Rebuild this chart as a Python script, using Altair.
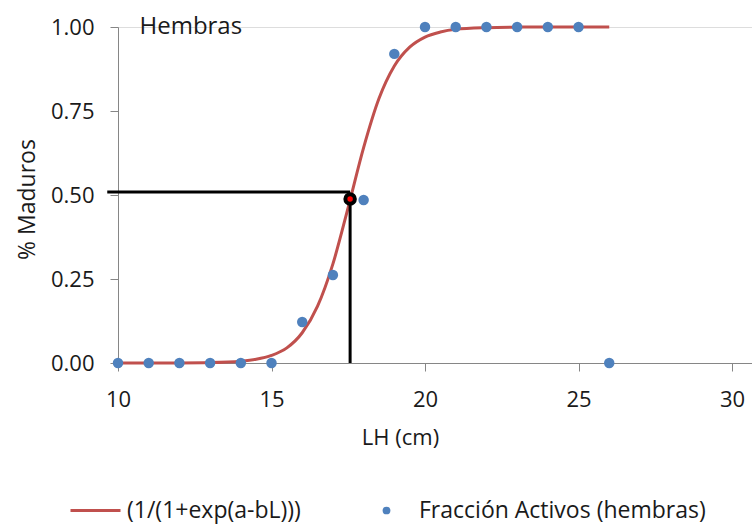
import altair as alt
import pandas as pd

# Observed fraction of mature females
obs_x = [10, 11, 12, 13, 14, 15, 16, 17, 18, 19, 20, 21, 22, 23, 24, 25, 26]
obs_y = [0, 0, 0, 0, 0, 0, 0.122, 0.262, 0.485, 0.92, 1, 1, 1, 1, 1, 1, 0]

# Fitted logistic curve
curve_x = [10, 12, 13, 14, 14.5, 15, 15.5, 16, 16.5, 17, 17.5, 18, 18.5, 19, 19.5, 20, 20.5, 21, 22, 23, 24, 26]
curve_y = [0.0, 0.0003, 0.0013, 0.0054, 0.011, 0.0225, 0.045, 0.09, 0.169, 0.295, 0.464, 0.641,
           0.787, 0.884, 0.94, 0.97, 0.985, 0.993, 0.998, 0.9996, 0.9999, 1.0]

# L50 marker and guide lines
l50_x = [17.56]
l50_y = [0.488]
hline_x = [9.65, 17.56]
hline_y = [0.509, 0.509]
vline_x = [17.56, 17.56]
vline_y = [0.0, 0.488]

label_x = [10.7]
label_y = [1.0]
label_text = ["Hembras"]

FONT = "Open Sans"
TXT = "#1a1a1a"
AXC = "#868686"

line_name = "(1/(1+exp(a-bL)))"
pts_name = "Fracción Activos (hembras)"

df_obs = pd.DataFrame({"x": obs_x, "y": obs_y, "s": pts_name})
df_curve = pd.DataFrame({"x": curve_x, "y": curve_y, "s": line_name})
df_l50 = pd.DataFrame({"x": l50_x, "y": l50_y})
df_h = pd.DataFrame({"x": hline_x, "y": hline_y})
df_v = pd.DataFrame({"x": vline_x, "y": vline_y})
df_lab = pd.DataFrame({"x": label_x, "y": label_y, "t": label_text})

xscale = alt.Scale(domain=[10, 30.65], nice=False, zero=False)
yscale = alt.Scale(domain=[0, 1], nice=False)

xaxis = alt.Axis(
    values=[10, 15, 20, 25, 30], title="LH (cm)", grid=False, labelFlush=False,
    domainColor=AXC, tickColor=AXC, tickSize=8, labelPadding=18,
    labelFont=FONT, labelFontSize=22, labelColor=TXT,
    titleFont=FONT, titleFontSize=22, titleFontWeight="normal", titleColor=TXT,
    titleX=282, titleY=74, titleAlign="center", titleBaseline="middle",
)
yaxis = alt.Axis(
    values=[0, 0.25, 0.5, 0.75, 1], format=".2f", title="% Maduros", grid=False, labelFlush=False,
    domainColor=AXC, tickColor=AXC, tickSize=8, labelPadding=16,
    labelFont=FONT, labelFontSize=22, labelColor=TXT,
    titleFont=FONT, titleFontSize=23, titleFontWeight="normal", titleColor=TXT,
    titleX=-91, titleY=172, titleAngle=270, titleAlign="center", titleBaseline="middle",
)

curve = alt.Chart(df_curve).mark_line(strokeWidth=3, interpolate="monotone").encode(
    x=alt.X("x:Q", scale=xscale, axis=xaxis),
    y=alt.Y("y:Q", scale=yscale, axis=yaxis),
    stroke=alt.Stroke("s:N", scale=alt.Scale(domain=[line_name], range=["#C0504D"]),
                      legend=alt.Legend(title=None, orient="none", legendX=-34, legendY=472,
                                        padding=0, symbolType="M-5,0H5", symbolSize=100,
                                        symbolStrokeWidth=3, labelLimit=0,
                                        labelFont=FONT, labelFontSize=23, labelColor=TXT,
                                        labelOffset=20)),
)

hline = alt.Chart(df_h).mark_line(color="black", strokeWidth=3).encode(x="x:Q", y="y:Q")
vline = alt.Chart(df_v).mark_line(color="black", strokeWidth=3).encode(x="x:Q", y="y:Q")

points = alt.Chart(df_obs).mark_point(filled=True, size=110, opacity=1, shape="circle").encode(
    x="x:Q", y="y:Q",
    fill=alt.Fill("s:N", scale=alt.Scale(domain=[pts_name], range=["#4F81BD"]),
                  legend=alt.Legend(title=None, orient="none", legendX=257, legendY=472,
                                    padding=0, symbolType="circle", symbolSize=60,
                                    symbolStrokeWidth=0, labelLimit=0,
                                    labelFont=FONT, labelFontSize=23, labelColor=TXT,
                                    labelOffset=21)),
)

l50 = alt.Chart(df_l50).mark_point(filled=True, size=90, fill="#FF0000", stroke="black",
                                   strokeWidth=4, opacity=1, shape="circle").encode(x="x:Q", y="y:Q")

label = alt.Chart(df_lab).mark_text(align="left", baseline="middle", font=FONT, fontSize=24,
                                    color=TXT).encode(x="x:Q", y="y:Q", text="t:N")

chart = alt.layer(curve, hline, vline, points, l50, label).resolve_legend(
    stroke="independent", fill="independent"
).properties(
    width=634, height=336,
    autosize=alt.AutoSizeParams(type="none"),
    padding={"left": 118, "top": 27, "right": 0, "bottom": 161},
).configure_view(stroke=None).configure(background="white")

chart.save("out.html", embed_options={"renderer": "svg", "actions": False})
